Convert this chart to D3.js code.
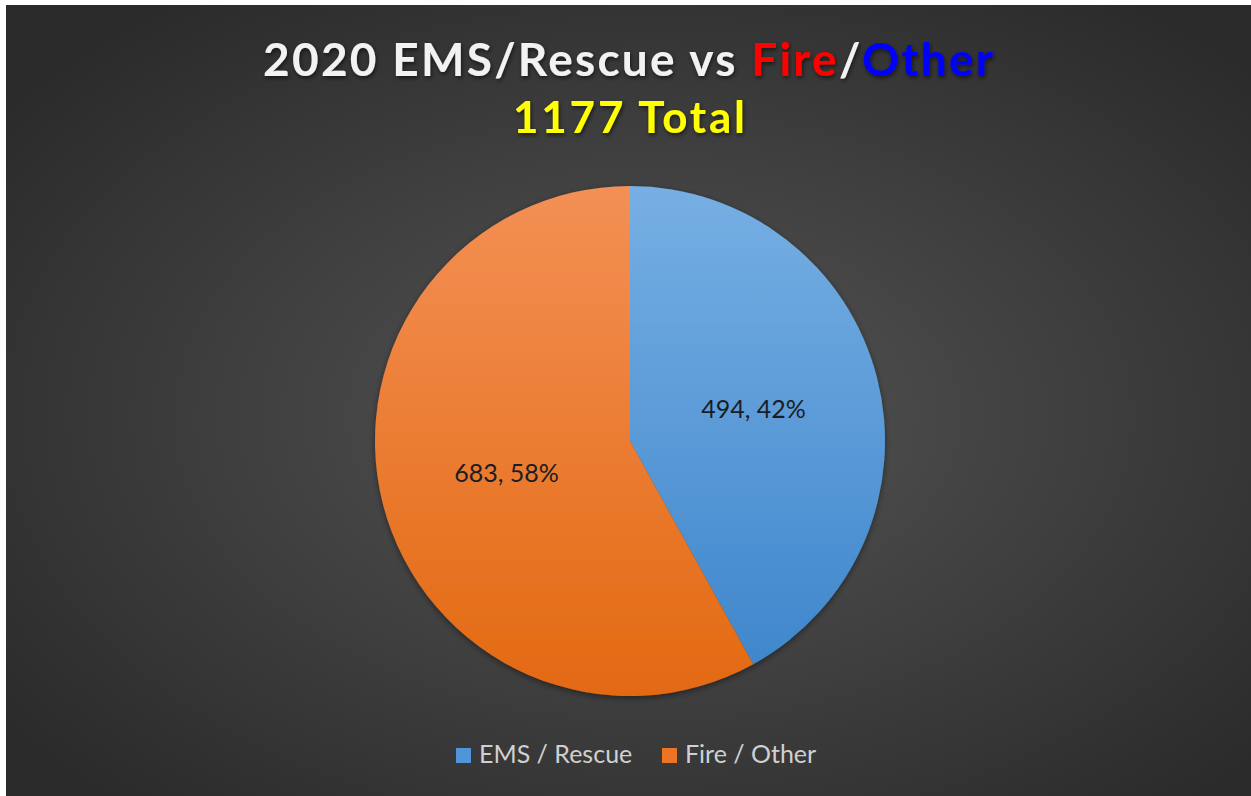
<!DOCTYPE html>
<meta charset="utf-8">
<style>
  body { margin: 0; background: #fff; }
  text { font-family: 'Lato', 'Open Sans', sans-serif; }
</style>
<body>
<div id="chart"></div>
<script src="https://d3js.org/d3.v7.min.js"></script>
<script>
// data
var categories = ["EMS / Rescue", "Fire / Other"];
var values = [494, 683];
var percents = ["42%", "58%"];
var titleParts = [
  {text: "2020 EMS/Rescue vs ", color: "#f2f2f2"},
  {text: "Fire", color: "#ff0000"},
  {text: "/", color: "#f2f2f2"},
  {text: "Other", color: "#0000ff"}
];
var subtitle = "1177 Total";

var W = 1251, H = 796;
var colors = {
  "EMS / Rescue": ["#76afe3", "#3c84cb"],
  "Fire / Other": ["#f39055", "#e36911"]
};
var legendColors = ["#4f95d8", "#ec7425"];

var svg = d3.select("#chart").append("svg")
  .attr("width", W).attr("height", H);

var defs = svg.append("defs");

// background radial gradient
var bg = defs.append("radialGradient").attr("id", "bg")
  .attr("cx", "52%").attr("cy", "52%").attr("r", "66%");
bg.append("stop").attr("offset", "0%").attr("stop-color", "#555555");
bg.append("stop").attr("offset", "100%").attr("stop-color", "#2a2a2a");

var shadow = defs.append("filter").attr("id", "shadow")
  .attr("x", "-10%").attr("y", "-10%").attr("width", "120%").attr("height", "130%");
shadow.append("feDropShadow").attr("dx", 1).attr("dy", 2).attr("stdDeviation", 2)
  .attr("flood-color", "#000").attr("flood-opacity", 0.6);

var pieShadow = defs.append("filter").attr("id", "pieShadow")
  .attr("x", "-10%").attr("y", "-10%").attr("width", "120%").attr("height", "120%");
pieShadow.append("feDropShadow").attr("dx", 0).attr("dy", 2).attr("stdDeviation", 3)
  .attr("flood-color", "#000").attr("flood-opacity", 0.45);

var cx = 630, cy = 441, radius = 255;

// vertical gradient over the pie, in the pie group's coords
categories.forEach(function(c, i) {
  var lgr = defs.append("linearGradient").attr("id", "grad" + i)
    .attr("gradientUnits", "userSpaceOnUse")
    .attr("x1", 0).attr("y1", -radius).attr("x2", 0).attr("y2", radius);
  lgr.append("stop").attr("offset", "0%").attr("stop-color", colors[c][0]);
  lgr.append("stop").attr("offset", "100%").attr("stop-color", colors[c][1]);
});

// chart area (white frame shows on top/left)
svg.append("rect").attr("x", 6).attr("y", 5)
  .attr("width", W - 6).attr("height", H - 5)
  .attr("fill", "url(#bg)");

// title
var title = svg.append("text")
  .attr("x", 628).attr("y", 76)
  .attr("text-anchor", "middle")
  .attr("textLength", 730).attr("lengthAdjust", "spacing")
  .style("font-size", "46px").style("font-weight", "bold")
  .attr("filter", "url(#shadow)");
title.selectAll("tspan").data(titleParts).enter().append("tspan")
  .attr("fill", function(d) { return d.color; })
  .text(function(d) { return d.text; });

svg.append("text")
  .attr("x", 629).attr("y", 133)
  .attr("text-anchor", "middle")
  .attr("textLength", 232).attr("lengthAdjust", "spacing")
  .style("font-size", "44px").style("font-weight", "bold")
  .attr("fill", "#ffff00")
  .attr("filter", "url(#shadow)")
  .text(subtitle);

// pie
var pie = d3.pie().sort(null).value(function(d) { return d; });
var arc = d3.arc().innerRadius(0).outerRadius(radius);
var arcs = pie(values);

var g = svg.append("g").attr("transform", "translate(" + cx + "," + cy + ")");
g.append("g").attr("filter", "url(#pieShadow)")
  .selectAll("path").data(arcs).enter().append("path")
  .attr("d", arc)
  .attr("fill", function(d, i) { return "url(#grad" + i + ")"; });

// data labels
var labelArc = d3.arc().innerRadius(radius * 0.5).outerRadius(radius * 0.5);
g.selectAll("text.lbl").data(arcs).enter().append("text")
  .attr("class", "lbl")
  .attr("x", function(d) { return labelArc.centroid(d)[0]; })
  .attr("y", function(d) { return labelArc.centroid(d)[1]; })
  .attr("text-anchor", "middle")
  .attr("dy", "0.35em")
  .style("font-size", "25px")
  .attr("fill", "#1a1d24")
  .text(function(d, i) { return values[i] + ", " + percents[i]; });

// legend
var legendX = [456, 662];
var lg = svg.selectAll("g.legend").data(categories).enter().append("g")
  .attr("class", "legend")
  .attr("transform", function(d, i) { return "translate(" + legendX[i] + ",748)"; });
lg.append("rect").attr("width", 15).attr("height", 15)
  .attr("fill", function(d, i) { return legendColors[i]; });
lg.append("text").attr("x", 23).attr("y", 15)
  .style("font-size", "25px").attr("fill", "#d0d0d0")
  .text(function(d) { return d; });
</script>
</body>
